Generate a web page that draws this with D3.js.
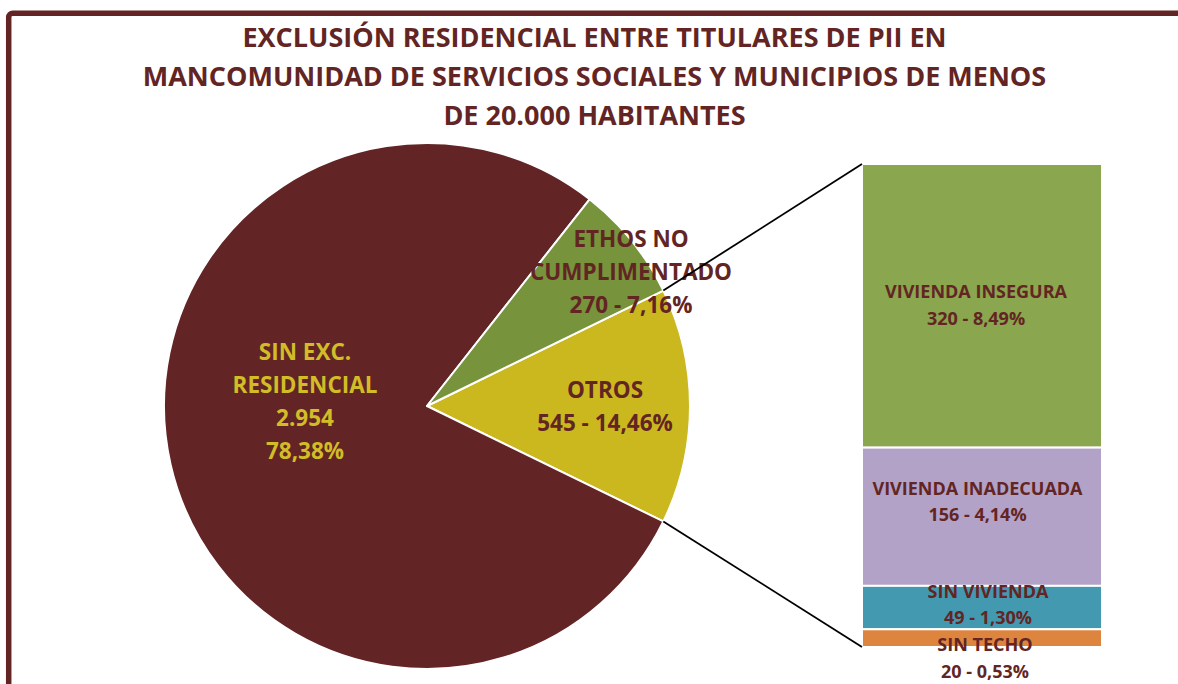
<!DOCTYPE html>
<html><head><meta charset="utf-8">
<script src="https://cdn.jsdelivr.net/npm/d3@7"></script>
<style>body{margin:0;background:#fff;overflow:hidden}</style>
</head><body>
<svg id="c" width="1178" height="684"></svg>
<script>
// ---- data ----
const titleLines = ["EXCLUSIÓN RESIDENCIAL ENTRE TITULARES DE PII EN",
  "MANCOMUNIDAD DE SERVICIOS SOCIALES Y MUNICIPIOS DE MENOS",
  "DE 20.000 HABITANTES"];
const pieCategories = ["OTROS", "SIN EXC. RESIDENCIAL", "ETHOS NO CUMPLIMENTADO"];
const pieValues = [545, 2954, 270];
const barCategories = ["VIVIENDA INSEGURA", "VIVIENDA INADECUADA", "SIN VIVIENDA", "SIN TECHO"];
const barValues = [320, 156, 49, 20];

// ---- styles ----
const DARK = "#632523";
const pieColors = ["#cbb81e", "#622425", "#77933c"];
const barColors = ["#8aa64e", "#b2a2c7", "#4399b0", "#dd843f"];
const font = "'Open Sans', 'Noto Sans', sans-serif";

const svg = d3.select("#c");
const loc = d3.formatLocale({decimal: ",", thousands: ".", grouping: [3], currency: ["", "€"]});
const fmtInt = loc.format(",d");
const fmtPct = loc.format(".2%");
const total = d3.sum(pieValues);

// frame
svg.append("rect").attr("x", 8.7).attr("y", 13.3).attr("width", 1200).attr("height", 700)
  .attr("rx", 4).attr("fill", "none").attr("stroke", DARK).attr("stroke-width", 5.5);

// title
const title = svg.append("text").attr("text-anchor", "middle").attr("fill", DARK)
  .attr("font-family", font).attr("font-weight", "bold").attr("font-size", 27);
title.selectAll("tspan").data(titleLines).join("tspan")
  .attr("x", 594.5).attr("y", (d, i) => 47 + i * 39).text(d => d);

// pie
const cx = 427, cy = 406, R = 263;
const a0 = Math.PI / 2 - (pieValues[0] / total) * Math.PI;
const pie = d3.pie().sort(null).startAngle(a0).endAngle(a0 + 2 * Math.PI);
const arcs = pie(pieValues);
const arc = d3.arc().innerRadius(0).outerRadius(R);
const g = svg.append("g").attr("transform", `translate(${cx},${cy})`);
g.selectAll("path").data(arcs).join("path")
  .attr("d", arc).attr("fill", (d, i) => pieColors[i])
  .attr("stroke", "#fff").attr("stroke-width", 2).attr("stroke-linejoin", "round");

// pie labels
const pieLabelLines = [
  [pieCategories[0], fmtInt(pieValues[0]) + " - " + fmtPct(pieValues[0] / total)],
  ["SIN EXC.", "RESIDENCIAL", fmtInt(pieValues[1]), fmtPct(pieValues[1] / total)],
  ["ETHOS NO", "CUMPLIMENTADO", fmtInt(pieValues[2]) + " - " + fmtPct(pieValues[2] / total)]
];
const pieLabelPos = [[178, -8], [-122, -46], [204, -159.5]]; // first baseline, relative to centre
const pieLabelColor = [DARK, "#d2bd27", DARK];
arcs.forEach((a, i) => {
  const [x, y0] = pieLabelPos[i];
  const t = g.append("text").attr("text-anchor", "middle").attr("fill", pieLabelColor[i])
    .attr("font-family", font).attr("font-weight", "bold").attr("font-size", 22.5);
  pieLabelLines[i].forEach((l, j) => {
    t.append("tspan").attr("x", x).attr("y", y0 + j * 33).text(l);
  });
});

// bar
const bx = 862, bw = 240;
const y = d3.scaleLinear().domain([0, pieValues[0]]).range([647, 164]);
let cum = d3.sum(barValues);
const segs = barValues.map((v, i) => { const top = cum; cum -= v; return {i, v, top, bot: cum}; });
svg.append("g").selectAll("rect").data(segs).join("rect")
  .attr("x", bx).attr("width", bw)
  .attr("y", d => y(d.top)).attr("height", d => y(d.bot) - y(d.top))
  .attr("fill", d => barColors[d.i]).attr("stroke", "#fff").attr("stroke-width", 2);

const barLabelDy = [-7.6, -22, -10, 13];
const barLabelDx = [-6, -4.5, 6, 3];
segs.forEach(s => {
  const yc = (y(s.top) + y(s.bot)) / 2 + barLabelDy[s.i];
  const xc = bx + bw / 2 + barLabelDx[s.i];
  const t = svg.append("text").attr("text-anchor", "middle").attr("fill", DARK)
    .attr("font-family", font).attr("font-weight", "bold").attr("font-size", 18);
  [barCategories[s.i], fmtInt(s.v) + " - " + fmtPct(s.v / total)].forEach((l, j) => {
    t.append("tspan").attr("x", xc).attr("y", yc + j * 26.5).text(l);
  });
});

// connector lines
const oA = arcs[0];
const pt = a => [cx + R * Math.sin(a), cy - R * Math.cos(a)];
const p1 = pt(oA.startAngle), p2 = pt(oA.endAngle);
const conn = [[p1, [bx, y(pieValues[0])]], [p2, [bx, y(0)]]];
svg.append("g").selectAll("path").data(conn).join("path")
  .attr("d", d => d3.line()(d)).attr("stroke", "#000").attr("stroke-width", 1.8).attr("fill", "none");
</script>
</body></html>
